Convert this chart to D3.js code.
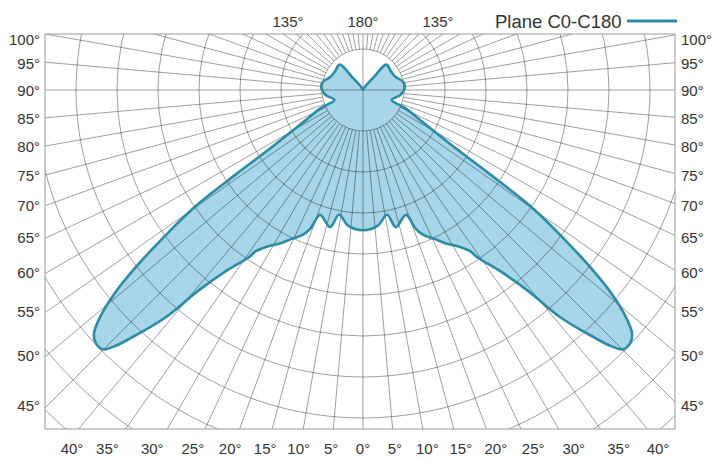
<!DOCTYPE html>
<html>
<head>
<meta charset="utf-8">
<script src="https://d3js.org/d3.v7.min.js"></script>
<style>
  body { margin: 0; background: #fff; }
  text { font-family: "Liberation Sans", Arial, sans-serif; fill: #333; }
</style>
</head>
<body>
<svg id="chart" width="713" height="459"></svg>
<script>
// gamma angle (deg, 0 = nadir) and intensity (cd/klm) in plane C0, C180 is the mirror side
var gammaAngles = [0, 3, 6.5, 10.9, 13.5, 19, 20.7, 22.5, 25.8, 28.2,
                   31.7, 33.6, 34.4, 36.9, 39.4, 41.0, 43.1, 44.1, 45.1, 46.5,
                   47.8, 49.1, 50.7, 52.0, 53.4, 55.2, 56.4, 57.7, 61.3, 66.8,
                   71.0, 82.3, 92.7, 101.3, 111.5, 122.7, 137.4, 140, 150, 180];
var intensityC0 = [171, 170, 166, 155, 172, 161, 180, 191, 202, 212,
                   225, 236, 248, 274, 317, 368, 414, 435, 448, 449,
                   443, 425, 391, 353, 307, 250, 187, 137, 86, 56,
                   37, 46, 51, 50, 43, 41, 42, 21, 4, 0];
var intensityC180 = intensityC0.slice();

var ringValues = [50, 100, 150, 200, 250, 300, 350, 400, 450, 500, 550, 600];
var sideTicks = [100, 95, 90, 85, 80, 75, 70, 65, 60, 55, 50, 45];
var bottomTicks = [-40, -35, -30, -25, -20, -15, -10, -5, 0, 5, 10, 15, 20, 25, 30, 35, 40];
var topTicks = [-135, 180, 135];
var legendLabel = "Plane C0-C180";

var cx = 363, cy = 90;
var frame = {x0: 45, y0: 34, x1: 675, y1: 429};
var lineColor = "#2a8ca6", fillColor = "#a6d6e7";

var svg = d3.select("#chart");
var r = d3.scaleLinear().domain([0, 50]).range([0, 41]);
var rad = function(d) { return d * Math.PI / 180; };
function pos(g, rr) { return [cx + rr * Math.sin(rad(g)), cy + rr * Math.cos(rad(g))]; }

svg.append("clipPath").attr("id", "clip")
  .append("rect")
    .attr("x", frame.x0).attr("y", frame.y0)
    .attr("width", frame.x1 - frame.x0).attr("height", frame.y1 - frame.y0);

var plot = svg.append("g").attr("clip-path", "url(#clip)");

// build the closed outline: C0 side (right), then C180 side (left) back down
var pts = [];
gammaAngles.forEach(function(g, i) { pts.push({a: Math.PI - rad(g), v: intensityC0[i]}); });
for (var i = gammaAngles.length - 2; i > 0; i--) {
  pts.push({a: Math.PI + rad(gammaAngles[i]), v: intensityC180[i]});
}

var radial = d3.lineRadial()
  .angle(function(d) { return d.a; })
  .radius(function(d) { return r(d.v); })
  .curve(d3.curveCatmullRomClosed.alpha(0.5));

plot.append("path")
  .attr("transform", "translate(" + cx + "," + cy + ")")
  .attr("d", radial(pts))
  .attr("fill", fillColor)
  .attr("stroke", "none");

// grid
var grid = plot.append("g")
  .attr("stroke", "#000").attr("stroke-opacity", 0.42)
  .attr("stroke-width", 0.9).attr("fill", "none");

grid.selectAll("circle").data(ringValues).enter().append("circle")
  .attr("cx", cx).attr("cy", cy)
  .attr("r", function(d) { return r(d); });

grid.selectAll("line").data(d3.range(0, 360, 5)).enter().append("line")
  .each(function(g) {
    var start = (g % 90 === 0) ? 0 : r(50);
    var p0 = pos(g, start), p1 = pos(g, 700);
    d3.select(this).attr("x1", p0[0]).attr("y1", p0[1]).attr("x2", p1[0]).attr("y2", p1[1]);
  });

plot.append("path")
  .attr("transform", "translate(" + cx + "," + cy + ")")
  .attr("d", radial(pts))
  .attr("fill", "none")
  .attr("stroke", lineColor)
  .attr("stroke-width", 2.6)
  .attr("stroke-linejoin", "round");

svg.append("rect")
  .attr("x", frame.x0).attr("y", frame.y0)
  .attr("width", frame.x1 - frame.x0).attr("height", frame.y1 - frame.y0)
  .attr("fill", "none").attr("stroke", "#999").attr("stroke-width", 1);

// labels
var halfW = (frame.x1 - frame.x0) / 2;
function sideY(g) {
  var y = cy + halfW * Math.cos(rad(g)) / Math.sin(rad(g)) + 1;
  return Math.max(y, 40);
}
svg.append("g").selectAll("text").data(sideTicks).enter().append("text")
  .attr("x", frame.x0 - 5).attr("y", sideY).attr("dy", "0.35em")
  .attr("text-anchor", "end").style("font-size", "15px")
  .text(function(d) { return d + "°"; });
svg.append("g").selectAll("text").data(sideTicks).enter().append("text")
  .attr("x", frame.x1 + 6).attr("y", sideY).attr("dy", "0.35em")
  .attr("text-anchor", "start").style("font-size", "15px")
  .text(function(d) { return d + "°"; });

svg.append("g").selectAll("text").data(bottomTicks).enter().append("text")
  .attr("x", function(d) {
    var x = cx + (455 - cy) * Math.tan(rad(d));
    return Math.max(72, Math.min(658, x));
  })
  .attr("y", 449).attr("dy", "0.35em")
  .attr("text-anchor", "middle").style("font-size", "15px")
  .text(function(d) { return Math.abs(d) + "°"; });

svg.append("g").selectAll("text").data(topTicks).enter().append("text")
  .attr("x", function(d) { return d === 180 ? cx : cx + (d < 0 ? -1 : 1) * 75 * Math.abs(Math.tan(rad(d))); })
  .attr("y", 21.5).attr("dy", "0.35em")
  .attr("text-anchor", "middle").style("font-size", "15px")
  .text(function(d) { return Math.abs(d) + "°"; });

// legend
svg.append("text")
  .attr("x", 495).attr("y", 28)
  .style("font-size", "18.5px")
  .text(legendLabel);
svg.append("line")
  .attr("x1", 627).attr("x2", 677).attr("y1", 21).attr("y2", 21)
  .attr("stroke", lineColor).attr("stroke-width", 3);
</script>
</body>
</html>
